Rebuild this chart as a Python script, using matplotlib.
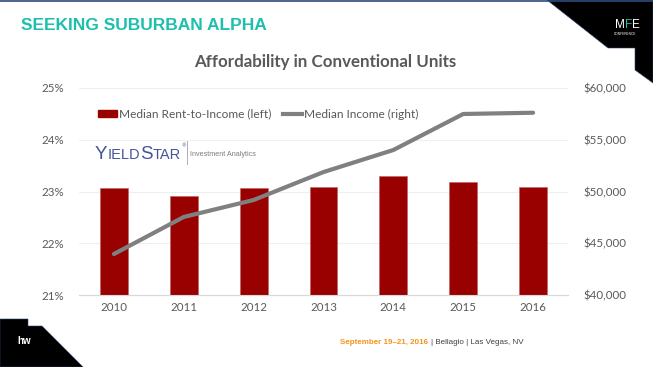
import matplotlib
matplotlib.use("Agg")
import matplotlib.pyplot as plt
from matplotlib.patches import Polygon, Patch
from matplotlib.lines import Line2D
from matplotlib.ticker import FuncFormatter

years = ["2010", "2011", "2012", "2013", "2014", "2015", "2016"]
rent_to_income = [23.07, 22.91, 23.07, 23.09, 23.29, 23.18, 23.09]
median_income = [43960, 47540, 49180, 51880, 54010, 57490, 57610]
left_ticks = [21, 22, 23, 24, 25]
right_ticks = [40000, 45000, 50000, 55000, 60000]

W, H = 653, 367
fig = plt.figure(figsize=(W / 100, H / 100), dpi=100)
fig.patch.set_facecolor("white")

FONT = ["Lato", "DejaVu Sans"]
ARIAL = ["Liberation Sans", "DejaVu Sans"]
GRAY = "#595959"

def fx(px):
    return px / W

def fy(py):
    return 1 - py / H

ax = fig.add_axes([fx(79), fy(295), fx(568) - fx(79), fy(88) - fy(295)])
ax2 = ax.twinx()

x = list(range(len(years)))
ax.bar(x, [v - left_ticks[0] for v in rent_to_income], bottom=left_ticks[0],
       width=0.4, color="#990000", edgecolor="#C06060", linewidth=0.4, zorder=3)
ax.set_ylim(left_ticks[0], left_ticks[-1])
ax.set_yticks(left_ticks)
ax.yaxis.set_major_formatter(FuncFormatter(lambda v, p: f"{v:.0f}%"))
ax.set_xlim(-0.5, len(years) - 0.5)
ax.set_xticks(x)
ax.set_xticklabels(years)
ax.grid(axis="y", color="#EFEFEF", linewidth=0.8, zorder=0)
ax.set_axisbelow(True)

ax2.plot(x, median_income, color="#808080", linewidth=3, solid_capstyle="round", zorder=4)
ax2.set_ylim(right_ticks[0], right_ticks[-1])
ax2.set_yticks(right_ticks)
ax2.yaxis.set_major_formatter(FuncFormatter(lambda v, p: f"${v:,.0f}"))

for a in (ax, ax2):
    for s in ("top", "left", "right"):
        a.spines[s].set_visible(False)
    a.spines["bottom"].set_color("#D9D9D9")
    a.tick_params(length=0, labelsize=8.3, labelcolor=GRAY)
    for lab in a.get_xticklabels() + a.get_yticklabels():
        lab.set_fontfamily(FONT)
ax.tick_params(axis="y", pad=11)
ax.tick_params(axis="x", pad=5)
ax2.tick_params(axis="y", pad=11)

handles = [Patch(facecolor="#990000", edgecolor="#990000"),
           Line2D([0], [0], color="#808080", linewidth=3)]
leg = ax2.legend(handles, ["Median Rent-to-Income (left)", "Median Income (right)"],
                 ncol=2, loc="center left", bbox_to_anchor=(fx(87), fy(114)),
                 bbox_transform=fig.transFigure, frameon=False,
                 handlelength=1.6, handleheight=0.6, handletextpad=0.15, columnspacing=1.0,
                 prop={"family": FONT, "size": 8.6})
for t in leg.get_texts():
    t.set_color(GRAY)

# Chart title
fig.text(fx(325), fy(62), "Affordability in Conventional Units", ha="center", va="center",
         fontsize=12.2, fontweight="bold", color=GRAY, family=FONT)

# Slide header
fig.text(fx(21), fy(26), "SEEKING SUBURBAN ALPHA", ha="left", va="center",
         fontsize=12.5, fontweight="bold", color="#1DBFAD", family=ARIAL)

fig.canvas.draw()
renderer = fig.canvas.get_renderer()

def run_text(x0, y0, parts, family, va="baseline"):
    xc = x0
    for s, size, col, gap in parts:
        t = fig.text(fx(xc), fy(y0), s, ha="left", va=va, fontsize=size, color=col, family=family)
        bb = t.get_window_extent(renderer=renderer)
        xc += bb.width + gap
    return xc

# YieldStar logo
BLUE = "#46559A"
xend = run_text(95, 159, [("Y", 13.5, BLUE, 0.1), ("IELD", 10.5, BLUE, 0.1),
                          ("S", 13.5, BLUE, 0.1), ("TAR", 10.5, BLUE, 0)], ARIAL)
fig.text(fx(xend + 0.5), fy(146), "®", ha="left", va="center", fontsize=3.5, color=BLUE)
fig.add_artist(Line2D([fx(187), fx(187)], [fy(141), fy(164)], color="#9AA0C0", linewidth=0.6))
fig.text(fx(190), fy(154), "Investment Analytics", ha="left", va="center", fontsize=5.2,
         color="#7F7F7F", family=ARIAL)

# Decorative shapes
fig.add_artist(Line2D([0, 1], [fy(0.7), fy(0.7)], color="#2B4A7A", linewidth=1.2))
tr = Polygon([[fx(547), fy(0)], [fx(653), fy(0)], [fx(653), fy(83)], [fx(635), fy(70)],
              [fx(635), fy(48)], [fx(608), fy(48)]], closed=True, facecolor="black",
             edgecolor="#2B4A7A", linewidth=0.4, transform=fig.transFigure)
fig.add_artist(tr)
bl = Polygon([[fx(0), fy(319)], [fx(28), fy(319)], [fx(28), fy(326)], [fx(42), fy(326)],
              [fx(83), fy(367)], [fx(0), fy(367)]], closed=True, facecolor="black",
             edgecolor="#2B4A7A", linewidth=0.4, transform=fig.transFigure)
fig.add_artist(bl)

# MFE logo
run_text(615, 28, [("M", 8.5, "white", 0.1), ("F", 8.5, "#1DBFAD", 0.1), ("E", 8.5, "white", 0)], ARIAL)
fig.text(fx(625.5), fy(34), "CONFERENCE", ha="center", va="center", fontsize=2.3, color="white", family=ARIAL)

# hw logo
fig.text(fx(17), fy(341), "hw", ha="left", va="center", fontsize=7, fontweight="bold", color="white",
         family=ARIAL)

# Footer
t1 = fig.text(fx(340), fy(342), "September 19–21, 2016", ha="left", va="center", fontsize=5.8,
              fontweight="bold", color="#F7941D", family=ARIAL)
bb = t1.get_window_extent(renderer=renderer)
fig.text(bb.x1 / W + fx(3), fy(342), "| Bellagio | Las Vegas, NV", ha="left", va="center", fontsize=5.8,
         color="#404040", family=ARIAL)

fig.savefig("out.png", dpi=100)
